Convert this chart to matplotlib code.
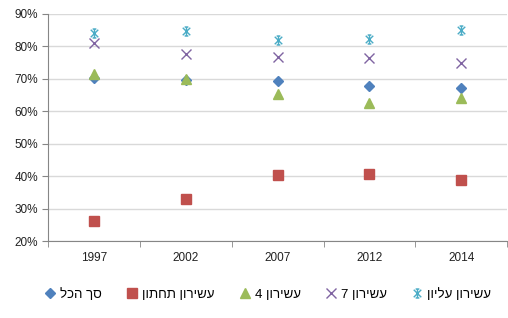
import matplotlib
matplotlib.use("Agg")
import matplotlib.pyplot as plt
from matplotlib.path import Path
from matplotlib.ticker import FixedLocator, PercentFormatter

plt.rcParams['font.family'] = ['Liberation Sans', 'DejaVu Sans']

years = ["1997", "2002", "2007", "2012", "2014"]
total = [70.2, 69.7, 69.4, 67.9, 67.3]
bottom_decile = [26.2, 32.9, 40.4, 40.8, 38.8]
decile4 = [71.5, 70.0, 65.2, 62.5, 64.2]
decile7 = [81.2, 77.6, 76.7, 76.4, 75.0]
top_decile = [84.0, 84.8, 82.1, 82.4, 85.1]

labels = ["סך הכל", "עשירון תחתון", "עשירון 4", "עשירון 7", "עשירון עליון"]


def visual(s):
    words = s.split(" ")[::-1]
    out = []
    for w in words:
        if any('\u0590' <= c <= '\u05FF' for c in w):
            out.append(w[::-1])
        else:
            out.append(w)
    return " ".join(out)


star_path = Path(
    [(-1, -1), (1, 1), (-1, 1), (1, -1), (0, -1.2), (0, 1.2),
     (-0.5, 1.2), (0.5, 1.2), (-0.5, -1.2), (0.5, -1.2)],
    [Path.MOVETO, Path.LINETO, Path.MOVETO, Path.LINETO, Path.MOVETO, Path.LINETO,
     Path.MOVETO, Path.LINETO, Path.MOVETO, Path.LINETO])

fig = plt.figure(figsize=(5.08, 3.18), dpi=100)
ax = fig.add_axes([0.0945, 0.242, 0.904, 0.714])

x = list(range(len(years)))
series = [
    (total, 'D', '#4F81BD', 5.5, dict()),
    (bottom_decile, 's', '#C0504D', 6.5, dict()),
    (decile4, '^', '#9BBB59', 7, dict()),
    (decile7, 'x', '#8064A2', 6.5, dict(markeredgewidth=1.0)),
    (top_decile, star_path, '#4BACC6', 6.5, dict(markeredgewidth=1.0, markerfacecolor='none')),
]
handles = []
for vals, m, c, ms, kw in series:
    h, = ax.plot(x, vals, linestyle='none', marker=m, color=c, markersize=ms, **kw)
    handles.append(h)

ax.set_ylim(20, 90)
ax.set_xlim(-0.5, len(years) - 0.5)
ax.set_yticks(range(20, 91, 10))
ax.yaxis.set_major_formatter(PercentFormatter(decimals=0))
ax.set_xticks(x)
ax.set_xticklabels(years)
ax.xaxis.set_minor_locator(FixedLocator([i - 0.5 for i in range(len(years) + 1)]))
ax.tick_params(axis='x', which='major', length=0, pad=8, labelsize=8.5, colors='#222222')
ax.tick_params(axis='x', which='minor', length=4, color='#868686')
ax.tick_params(axis='y', length=4, color='#868686', labelsize=8.5, labelcolor='#222222', pad=3)

ax.grid(axis='y', color='#D9D9D9', linewidth=1)
ax.set_axisbelow(True)
for s in ['top', 'right']:
    ax.spines[s].set_visible(False)
for s in ['left', 'bottom']:
    ax.spines[s].set_color('#868686')

fig.legend(handles, [visual(l) for l in labels], loc='center', bbox_to_anchor=(0.525, 0.075),
           ncol=5, frameon=False, fontsize=9.5, handletextpad=0.15, columnspacing=1.7,
           handlelength=1.2)

fig.savefig("out.png", dpi=100)
